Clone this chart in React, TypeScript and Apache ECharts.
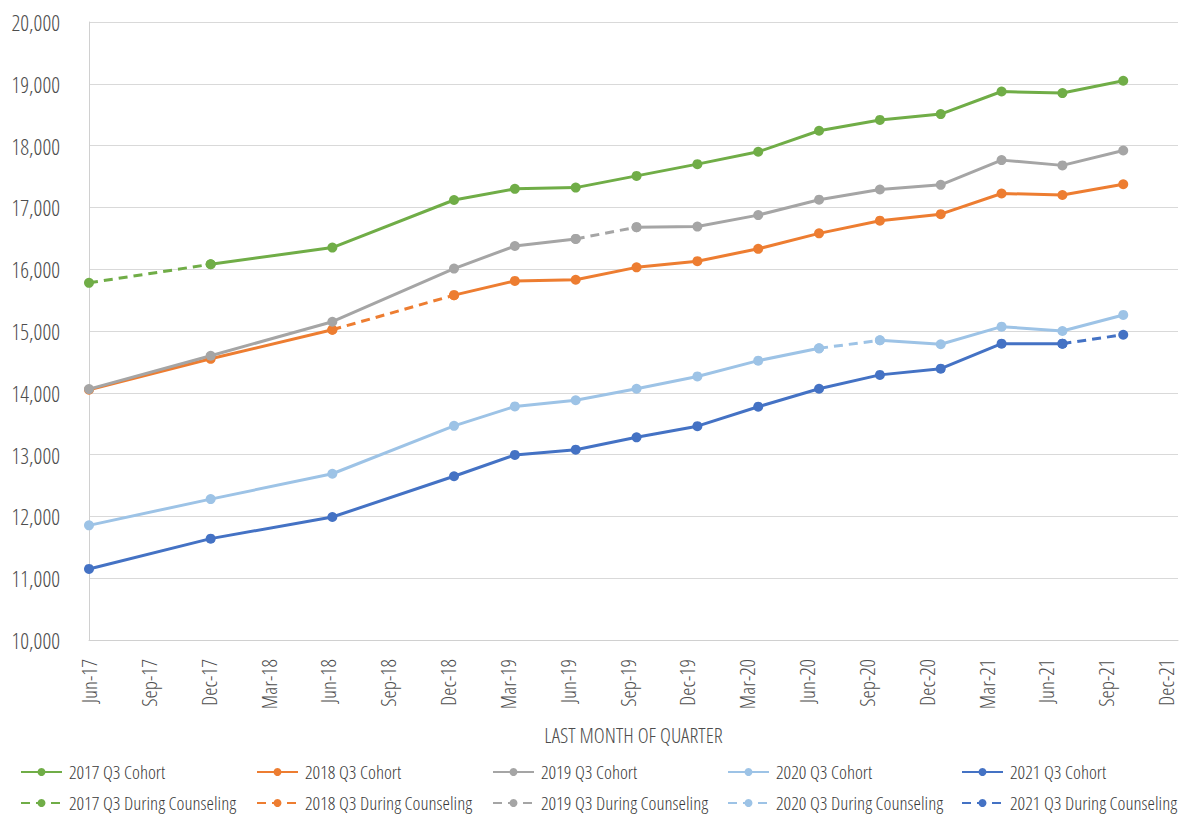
import React, { useEffect, useRef } from "react";
import * as echarts from "echarts";

// ---- Data ----
const periods = ["Jun-17", "Dec-17", "Jun-18", "Dec-18", "Mar-19", "Jun-19", "Sep-19", "Dec-19", "Mar-20", "Jun-20", "Sep-20", "Dec-20", "Mar-21", "Jun-21", "Sep-21"];
const tickLabels = ["Jun-17", "Sep-17", "Dec-17", "Mar-18", "Jun-18", "Sep-18", "Dec-18", "Mar-19", "Jun-19", "Sep-19", "Dec-19", "Mar-20", "Jun-20", "Sep-20", "Dec-20", "Mar-21", "Jun-21", "Sep-21", "Dec-21"];
const yTicks = [10000, 20000, 1000];

const cohortNames = ["2017 Q3", "2018 Q3", "2019 Q3", "2020 Q3", "2021 Q3"];
const cohortColors = ["#70AD47", "#ED7D31", "#A5A5A5", "#9DC3E6", "#4472C4"];
const counselingStart = ["Jun-17", "Jun-18", "Jun-19", "Jun-20", "Jun-21"];

const values2017 = [15780, 16080, 16350, 17120, 17300, 17320, 17510, 17700, 17900, 18240, 18415, 18510, 18875, 18850, 19050];
const values2018 = [14050, 14550, 15020, 15580, 15810, 15830, 16030, 16130, 16330, 16580, 16785, 16890, 17225, 17200, 17375];
const values2019 = [14060, 14600, 15150, 16010, 16375, 16490, 16680, 16690, 16875, 17125, 17290, 17365, 17765, 17680, 17920];
const values2020 = [11855, 12280, 12690, 13465, 13780, 13880, 14065, 14265, 14520, 14720, 14850, 14785, 15070, 15000, 15260];
const values2021 = [11150, 11640, 11990, 12650, 12995, 13080, 13280, 13460, 13775, 14065, 14290, 14390, 14795, 14795, 14940];
const cohortValues = [values2017, values2018, values2019, values2020, values2021];

const FONT = "'Open Sans Condensed Light', 'Open Sans Condensed', 'Liberation Sans', sans-serif";
const MONTHS = ["Jan", "Feb", "Mar", "Apr", "May", "Jun", "Jul", "Aug", "Sep", "Oct", "Nov", "Dec"];

function monthIndex(label: string): number {
  const [m, y] = label.split("-");
  return (parseInt(y, 10) - 17) * 12 + MONTHS.indexOf(m) - 5;
}

function buildOption() {
  const series: any[] = [];
  const legends: any[] = [];
  const legendLefts = [20, 256, 492, 727, 961];

  cohortNames.forEach((c, ci) => {
    const vals = cohortValues[ci];
    const pts = periods.map((p, i) => [monthIndex(p), vals[i]]);
    const s = periods.indexOf(counselingStart[ci]);
    const solidName = `${c} Cohort`;
    const dashName = `${c} During Counseling`;
    const base = {
      type: "line",
      symbol: "circle",
      symbolSize: 10,
      showSymbol: true,
      itemStyle: { color: cohortColors[ci] },
      color: cohortColors[ci],
      xAxisIndex: 0,
      yAxisIndex: 0,
    };
    const segments: number[][] = [];
    if (s >= 1) segments.push([0, s]);
    if (s + 1 < pts.length - 1) segments.push([s + 1, pts.length - 1]);
    segments.forEach(([a, b]) => {
      series.push({
        ...base,
        name: solidName,
        lineStyle: { width: 3, color: cohortColors[ci], type: "solid" },
        data: pts.slice(a, b + 1),
      });
    });
    series.push({
      ...base,
      name: dashName,
      lineStyle: { width: 3, color: cohortColors[ci], type: [9, 6] },
      data: pts.slice(s, s + 2),
    });
    legends.push({
      orient: "vertical",
      left: legendLefts[ci],
      top: 762,
      padding: 0,
      itemGap: 11,
      itemWidth: 41,
      itemHeight: 10,
      data: [solidName, dashName],
      textStyle: { fontFamily: FONT, fontSize: 19, color: "#3a3a3a", lineHeight: 20, padding: [0, 0, 0, 2] },
    });
  });

  return {
    animation: false,
    backgroundColor: "#ffffff",
    grid: { left: 89, right: 5, top: 22, bottom: 181, containLabel: false, outerBoundsMode: "none" },
    legend: legends,
    xAxis: [
      {
        type: "value",
        position: "bottom",
        min: 0,
        max: 53.7,
        axisLine: { show: true, lineStyle: { color: "#d0d0d0", width: 1 } },
        axisTick: { show: false },
        axisLabel: { show: false },
        splitLine: { show: false },
      },
      {
        type: "value",
        position: "bottom",
        min: 0,
        max: 54.6,
        interval: 3,
        axisLine: { show: false },
        axisTick: { show: false },
        splitLine: { show: false },
        axisLabel: {
          rotate: 90,
          margin: 19,
          fontFamily: FONT,
          fontSize: 21,
          color: "#4d4d4d",
          formatter: (v: number) => tickLabels[Math.round(v / 3)] ?? "",
        },
        name: "LAST MONTH OF QUARTER",
        nameLocation: "middle",
        nameGap: 84,
        nameTextStyle: { fontFamily: FONT, fontSize: 21, color: "#4d4d4d" },
      },
    ],
    yAxis: {
      type: "value",
      min: yTicks[0],
      max: yTicks[1],
      interval: yTicks[2],
      axisLine: { show: true, lineStyle: { color: "#d0d0d0", width: 1 } },
      axisTick: { show: false },
      splitLine: { show: true, lineStyle: { color: "#d9d9d9", width: 1 } },
      axisLabel: {
        margin: 29,
        fontFamily: FONT,
        fontSize: 22,
        color: "#4d4d4d",
        formatter: (v: number) => v.toLocaleString("en-US"),
      },
    },
    series,
  };
}

export default function App() {
  const ref = useRef<HTMLDivElement>(null);
  useEffect(() => {
    document.body.style.margin = "0";
    if (!ref.current) return;
    const chart = echarts.init(ref.current, undefined, { renderer: "svg" });
    chart.setOption(buildOption() as any);
    return () => chart.dispose();
  }, []);
  return <div ref={ref} style={{ width: 1183, height: 821 }} />;
}
